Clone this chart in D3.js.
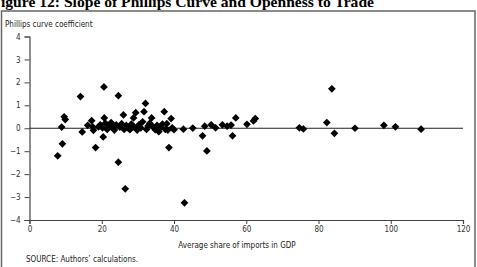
<!DOCTYPE html>
<html>
<head>
<meta charset="utf-8">
<script src="https://cdn.jsdelivr.net/npm/d3@7"></script>
<style>
  body { margin: 0; background: #fff; }
  svg { display: block; }
  .tick text { font-family: "Liberation Sans Narrow", "Arial Narrow", "DejaVu Sans Condensed", sans-serif; font-size: 8px; fill: #333; }
  .lbl { font-family: "Liberation Sans Narrow", "Arial Narrow", "DejaVu Sans Condensed", sans-serif; font-size: 8px; fill: #222; }
</style>
</head>
<body>
<div id="chart"></div>
<script>
// Import share (x) and Phillips curve coefficient (y)
var importShare = [
    7.8, 9.1, 8.9, 9.6, 9.9, 14.1, 14.6, 16.1, 17.2, 17.5,
    17.7, 18.3, 19.1, 20.4, 20.6, 20.7, 19.6, 20.2, 21.0, 21.5,
    22.0, 22.6, 23.0, 23.5, 24.0, 24.6, 24.6, 25.0, 25.5, 26.0,
    26.2, 26.5, 26.8, 27.3, 27.8, 28.2, 28.8, 29.4, 29.0, 29.8,
    30.3, 30.8, 31.3, 31.7, 32.1, 32.4, 32.8, 33.3, 33.8, 34.3,
    34.8, 35.3, 35.8, 36.3, 36.8, 37.3, 37.6, 38.0, 38.6, 38.3,
    39.2, 39.5, 40.0, 42.6, 42.9, 45.2, 47.9, 48.5, 49.1, 50.3,
    51.5, 53.4, 54.7, 55.8, 56.2, 57.1, 60.2, 62.0, 62.5, 74.7,
    75.8, 82.3, 83.7, 84.4, 90.1, 98.1, 101.3, 108.4
];
var coefficient = [
    -1.20, -0.68, 0.05, 0.50, 0.38, 1.38, -0.16, 0.13, 0.33, 0.06,
    -0.09, -0.84, 0.06, -0.38, 1.80, 0.45, 0.15, 0.02, 0.22, -0.05,
    0.10, 0.25, 0.02, -0.08, 0.15, 1.42, -1.48, 0.05, 0.20, 0.58,
    -0.05, -2.64, 0.12, 0.02, -0.06, 0.18, 0.45, 0.68, 0.05, -0.08,
    0.15, 0.02, 0.28, 0.72, 1.08, -0.05, 0.10, 0.22, 0.45, 0.05,
    -0.06, 0.12, -0.15, 0.03, 0.18, 0.72, -0.05, 0.20, -0.84, -0.08,
    0.42, 0.02, -0.06, -0.04, -3.25, 0.01, -0.33, 0.09, -0.99, 0.15,
    0.02, 0.15, 0.09, 0.14, -0.33, 0.45, 0.17, 0.32, 0.42, 0.02,
    -0.03, 0.25, 1.72, -0.22, 0.00, 0.13, 0.06, -0.04
];
var xTicks = [0, 20, 40, 60, 80, 100, 120];
var yTicks = [-4, -3, -2, -1, 0, 1, 2, 3, 4];

var width = 477, height = 267;
var points = importShare.map(function (v, i) { return { x: v, y: coefficient[i] }; });

var svg = d3.select("#chart").append("svg")
    .attr("width", width)
    .attr("height", height);

//Title, cut off at the top edge like the scan
svg.append("text")
    .attr("x", 374)
    .attr("y", 6.5)
    .attr("text-anchor", "end")
    .style("font-family", "'Liberation Serif', 'Times New Roman', serif")
    .style("font-weight", "bold")
    .style("font-size", "15.6px")
    .text("Figure 12: Slope of Phillips Curve and Openness to Trade");

//Frame around the chart
svg.append("rect")
    .attr("x", 1.5).attr("y", 11)
    .attr("width", 473.5).attr("height", 300)
    .attr("fill", "none")
    .attr("stroke", "#666")
    .attr("stroke-width", 1.5);

var x = d3.scaleLinear().domain([0, 120]).range([29.5, 463]);
var y = d3.scaleLinear().domain([-4, 4]).range([220, 36.5]);

var fmt = function (d) { return d < 0 ? "\u2212" + Math.abs(d) : String(d); };

var yAxis = svg.append("g")
    .attr("transform", "translate(" + x(0) + ",0)")
    .call(d3.axisLeft(y).tickValues(yTicks).tickSize(5).tickPadding(4).tickFormat(fmt));

var xAxis = svg.append("g")
    .attr("transform", "translate(0," + y(-4) + ")")
    .call(d3.axisBottom(x).tickValues(xTicks).tickSize(4).tickPadding(2).tickFormat(fmt));

[yAxis, xAxis].forEach(function (g) {
    g.select(".domain").attr("stroke", "#444").attr("stroke-width", 1.2);
    g.selectAll(".tick line").attr("stroke", "#444");
});

//Zero reference line
svg.append("line")
    .attr("x1", x(0)).attr("x2", x(120))
    .attr("y1", y(0)).attr("y2", y(0))
    .attr("stroke", "#222")
    .attr("stroke-width", 1);

//Diamond markers
var diamond = d3.symbol().type(d3.symbolSquare).size(30);
svg.append("g")
    .selectAll("path")
    .data(points)
    .enter().append("path")
    .attr("d", diamond)
    .attr("transform", function (d) { return "translate(" + x(d.x) + "," + y(d.y) + ") rotate(45)"; })
    .attr("fill", "#000");

svg.append("text").attr("class", "lbl")
    .attr("x", 5).attr("y", 27)
    .text("Phillips curve coefficient");

svg.append("text").attr("class", "lbl")
    .attr("x", 237).attr("y", 248)
    .attr("text-anchor", "middle")
    .text("Average share of imports in GDP");

svg.append("text").attr("class", "lbl")
    .attr("x", 26).attr("y", 262)
    .text("SOURCE: Authors\u2019 calculations.");
</script>
</body>
</html>
